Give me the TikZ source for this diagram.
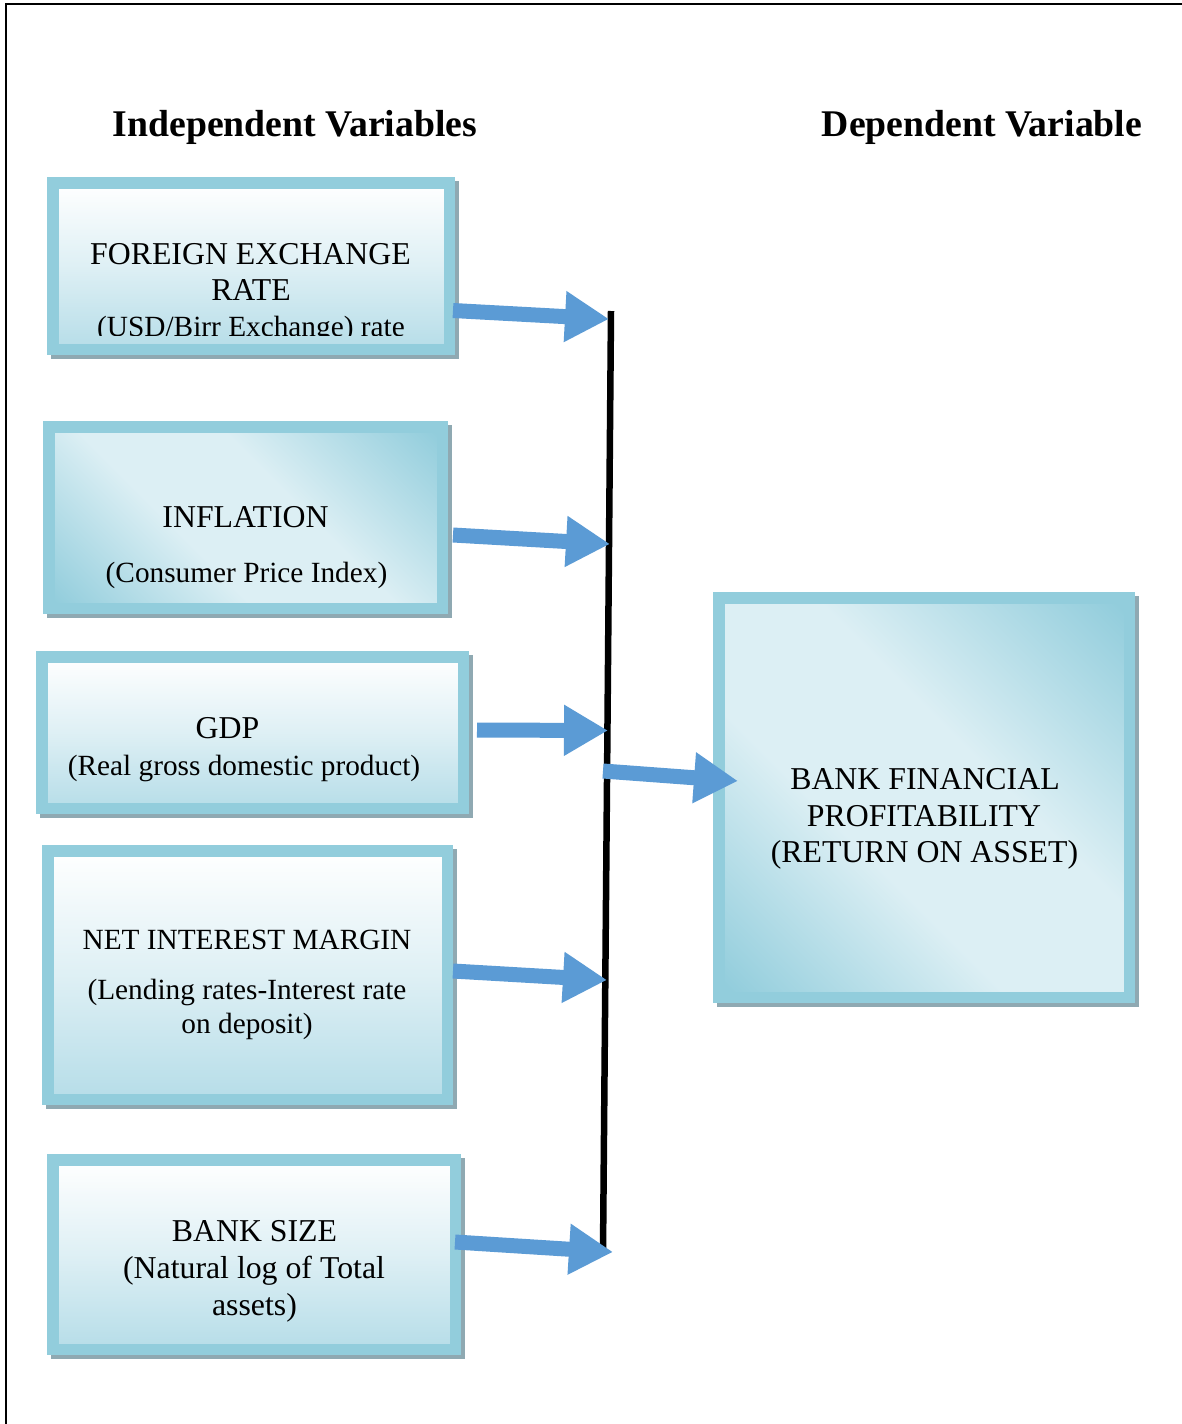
\documentclass[tikz,border=0pt]{standalone}
\usepackage{fontspec}
\setmainfont{Liberation Serif}
\usetikzlibrary{arrows.meta,backgrounds,calc}
\definecolor{bordc}{RGB}{146,205,220}
\definecolor{lowc}{RGB}{182,221,232}
\definecolor{lightc}{RGB}{220,239,244}
\definecolor{shadc}{RGB}{143,169,178}
\definecolor{arrc}{RGB}{91,155,213}
\pgfdeclarehorizontalshading{diagsh}{100bp}{color(0bp)=(bordc); color(16bp)=(bordc); color(40bp)=(lightc); color(58bp)=(lightc); color(84bp)=(bordc); color(100bp)=(bordc)}
\begin{document}
\begin{tikzpicture}[x=1pt,y=-1pt,
  boxframe/.style={rectangle, draw=bordc, line width=11.5pt, inner sep=0pt},
  vgrad/.style={boxframe, top color=white, bottom color=lowc, middle color=white!55!lowc},
  dgrad/.style={boxframe, shading=diagsh, shading angle=45},
  capf/.style={anchor=base, inner sep=0pt, font=\fontsize{31.8pt}{38pt}\selectfont},
  lowf/.style={anchor=base, inner sep=0pt, font=\fontsize{29.3pt}{36pt}\selectfont},
  titf/.style={anchor=base, inner sep=0pt, font=\bfseries\fontsize{37.7pt}{44pt}\selectfont},
  blockarr/.style={draw=arrc, line width=15pt, -{Triangle[length=44pt, width=48pt]}},
  vbar/.style={draw=black, line width=6.5pt},
  frameline/.style={draw=black, line width=2.5pt}
]
\useasboundingbox (0,0) rectangle (1182,1424);
\draw[frameline] (6,1424) -- (6,4.2) -- (1182,4.2);

% titles
\node[titf] (tind) at (295,136) {Independent Variables};
\node[titf] (tdep) at (982,136) {Dependent Variable};

% boxes
\node[vgrad, minimum width=396.5pt, minimum height=166.5pt] (b1) at (251,266) {};
\node[dgrad, minimum width=393.5pt, minimum height=181.5pt] (b2) at (245.5,517.5) {};
\node[vgrad, minimum width=421.5pt, minimum height=151.5pt] (b3) at (252.5,732.5) {};
\node[vgrad, minimum width=399.5pt, minimum height=248.5pt] (b4) at (247.5,975) {};
\node[vgrad, minimum width=402.5pt, minimum height=189.5pt] (b5) at (254,1254.5) {};
\node[dgrad, minimum width=410.5pt, minimum height=399.5pt] (bd) at (924,797.5) {};

\begin{scope}[on background layer]
  \fill[white] (0,0) rectangle (1182,1424);
  \foreach \b in {b1,b2,b3,b4,b5,bd}{
    \fill[shadc] ($(\b.south west)+(4,4)$) rectangle ($(\b.north east)+(4,4)$);
  }
\end{scope}

% texts
\node[capf] (t1a) at (250.5,264) {FOREIGN EXCHANGE};
\node[capf] (t1b) at (251,300) {RATE};
\begin{scope}
  \clip (58.5,188.5) rectangle (443.5,335.5);
  \node[lowf] (t1c) at (251,336) {(USD/Birr Exchange) rate};
\end{scope}

\node[capf] (t2a) at (245.5,527) {INFLATION};
\node[lowf] (t2b) at (246.5,582) {(Consumer Price Index)};

\node[capf] (t3a) at (227.5,738) {GDP};
\node[lowf] (t3b) at (244,775) {(Real gross domestic product)};

\node[lowf] (t4a) at (247,949) {NET INTEREST MARGIN};
\node[lowf] (t4b) at (247,999) {(Lending rates-Interest rate};
\node[lowf] (t4c) at (247,1033) {on deposit)};

\node[capf] (t5a) at (254.5,1241) {BANK SIZE};
\node[capf] (t5b) at (254,1278) {(Natural log of Total};
\node[capf] (t5c) at (254.5,1315) {assets)};

\node[capf] (tda) at (925,789) {BANK FINANCIAL};
\node[capf] (tdb) at (924,826) {PROFITABILITY};
\node[capf] (tdc) at (924.5,862) {(RETURN ON ASSET)};

% vertical bar
\coordinate (vtop) at (611,311);
\coordinate (vbot) at (603,1252);
\draw[vbar] (vtop) -- (vbot);

% arrow endpoints
\coordinate (a1s) at (453,310.5); \coordinate (a1e) at (609,319);
\coordinate (a2s) at (453,535);   \coordinate (a2e) at (610,544);
\coordinate (a3s) at (477,730);   \coordinate (a3e) at (608,730.5);
\coordinate (a4s) at (603,771);   \coordinate (a4e) at (738,781);
\coordinate (a5s) at (453,971);   \coordinate (a5e) at (607,980);
\coordinate (a6s) at (455,1242);  \coordinate (a6e) at (613,1252);

\draw[blockarr] (a1s) -- (a1e);
\draw[blockarr] (a2s) -- (a2e);
\draw[blockarr] (a3s) -- (a3e);
\draw[blockarr] (a4s) -- (a4e);
\draw[blockarr] (a5s) -- (a5e);
\draw[blockarr] (a6s) -- (a6e);
\end{tikzpicture}
\end{document}
